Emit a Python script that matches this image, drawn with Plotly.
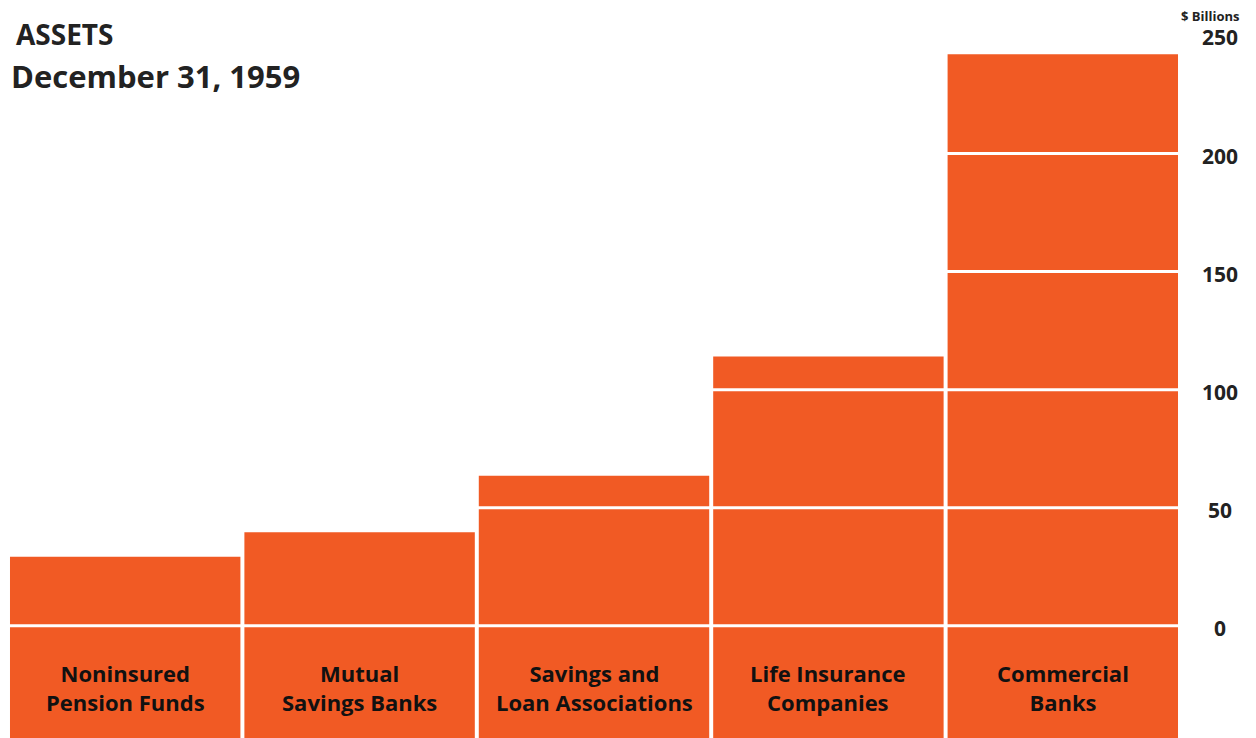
import plotly.graph_objects as go

categories = ["Noninsured<br>Pension Funds", "Mutual<br>Savings Banks", "Savings and<br>Loan Associations",
              "Life Insurance<br>Companies", "Commercial<br>Banks"]
assets = [29.2, 39.6, 63.5, 114.0, 242.0]
tick_vals = [0, 50, 100, 150, 200, 250]
tick_text = ["0", "50", "100", "150", "200", "250"]
label_band = -60  # depth of the label strip below zero

ORANGE = "#F15A24"
TEXT = "#222222"
FONT = "Open Sans"

x_idx = list(range(len(categories)))

fig = go.Figure()
fig.add_trace(go.Bar(x=x_idx, y=[label_band] * len(categories), marker=dict(color=ORANGE, line=dict(width=0)),
                     hoverinfo="skip", showlegend=False))
fig.add_trace(go.Bar(x=x_idx, y=assets, marker=dict(color=ORANGE, line=dict(width=0)),
                     showlegend=False))

# white rule lines across the bars at each tick value
for v in tick_vals:
    fig.add_shape(type="line", xref="paper", yref="y", x0=0, x1=1, y0=v, y1=v,
                  line=dict(color="white", width=3), layer="above")

# tick labels on the right
for v, t in zip(tick_vals, tick_text):
    fig.add_annotation(xref="paper", yref="y", x=1.034, y=v, yshift=-2, text=t, showarrow=False,
                       xanchor="center", yanchor="middle", borderpad=0,
                       font=dict(family=FONT, size=21, color=TEXT, weight="bold"))

# category labels in the bottom strip
for i, c in enumerate(categories):
    fig.add_annotation(x=i, y=label_band / 2, yshift=9, text=c, showarrow=False, xref="x", yref="y",
                       align="center", font=dict(family=FONT, size=22, color="#111111", weight="bold"))

fig.add_annotation(xref="paper", yref="paper", x=1.0512, y=1, yshift=-6, text="$ Billions", showarrow=False,
                   xanchor="right", yanchor="top", borderpad=0,
                   font=dict(family=FONT, size=13, color=TEXT, weight="bold"))
fig.add_annotation(xref="paper", yref="paper", x=0.005, y=1, yshift=-13, text="ASSETS", showarrow=False,
                   xanchor="left", yanchor="top",
                   font=dict(family=FONT, size=28, color=TEXT, weight="bold"))
fig.add_annotation(xref="paper", yref="paper", x=0.001, y=1, yshift=-53, text="December 31, 1959", showarrow=False,
                   xanchor="left", yanchor="top",
                   font=dict(family=FONT, size=31, color=TEXT, weight="bold"))

fig.update_layout(
    width=1256, height=738,
    margin=dict(l=8, r=76, t=0, b=0),
    paper_bgcolor="white", plot_bgcolor="white",
    barmode="overlay", bargap=0.017,
    xaxis=dict(range=[-0.5, 4.5], showgrid=False, showticklabels=False, zeroline=False, showline=False, ticks=""),
    yaxis=dict(range=[-47.5, 265], showgrid=False, showticklabels=False, zeroline=False, showline=False, ticks=""),
)

fig.write_html("out.html", config={"displayModeBar": False},
               post_script="document.body.style.margin='0';document.body.style.padding='0';")
